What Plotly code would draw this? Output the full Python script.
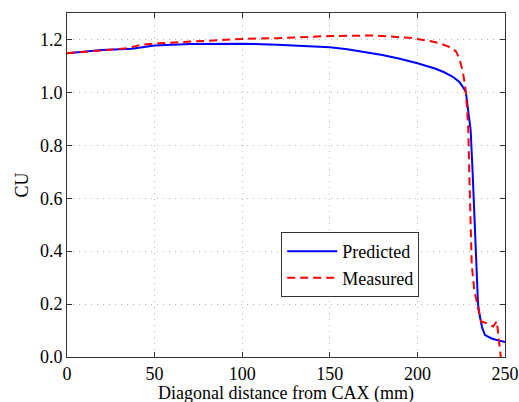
import plotly.graph_objects as go

# Predicted (blue solid)
pred_x = [0, 10, 20, 37, 50, 70, 90, 100, 120, 140, 150, 160, 170, 180, 190, 200,
          210, 215, 220, 224, 226, 227.7, 229, 230.4, 231.5, 232.9, 233.7, 234.6,
          235.7, 237, 238.6, 240.5, 242.4, 244.3, 247, 250]
pred_y = [1.148, 1.155, 1.16, 1.165, 1.177, 1.183, 1.185, 1.184, 1.18, 1.175, 1.171,
          1.163, 1.153, 1.141, 1.127, 1.11, 1.09, 1.077, 1.06, 1.039, 1.02, 1.0,
          0.93, 0.857, 0.7, 0.48, 0.29, 0.2, 0.152, 0.11, 0.083, 0.075, 0.07,
          0.066, 0.061, 0.057]

# Measured (red dashed)
meas_x = [0, 20, 35, 42, 50, 65, 80, 100, 120, 150, 175, 185, 196, 207, 213,
          218.6, 222, 224, 226, 227.7, 228.5, 229, 229.6, 230.2, 231, 232.5,
          233.4, 234.3, 235.7, 236.6, 238.6, 240, 243.2, 245.3, 246.2, 247.2, 247.6]
meas_y = [1.148, 1.16, 1.167, 1.18, 1.185, 1.19, 1.195, 1.202, 1.205, 1.213, 1.215,
          1.211, 1.206, 1.194, 1.185, 1.171, 1.155, 1.127, 1.077, 1.0, 0.93, 0.87,
          0.7, 0.5, 0.35, 0.25, 0.215, 0.196, 0.15, 0.133, 0.13, 0.125, 0.115,
          0.135, 0.077, 0.014, 0.0]

x_ticks = [0, 50, 100, 150, 200, 250]
y_ticks = [0.0, 0.2, 0.4, 0.6, 0.8, 1.0, 1.2]
x_title = "Diagonal distance from CAX (mm)"
y_title = "CU"

FONT = "Liberation Serif, Times New Roman, serif"
FS = 18

fig = go.Figure()
fig.add_trace(go.Scatter(x=pred_x, y=pred_y, mode="lines", name="Predicted",
                         line=dict(color="#0000ff", width=2)))
fig.add_trace(go.Scatter(x=meas_x, y=meas_y, mode="lines", name="Measured",
                         line=dict(color="#ff0000", width=2, dash="8px,5px")))

axis_common = dict(
    showline=True, linecolor="#333333", linewidth=1, mirror="ticks",
    ticks="inside", ticklen=5, tickcolor="#333333",
    showgrid=True, gridcolor="#b8b8b8", griddash="1px,5px", gridwidth=1,
    zeroline=False, automargin=False,
    tickfont=dict(family=FONT, size=FS, color="black"),
)

fig.update_layout(
    width=519, height=402,
    margin=dict(l=67, r=14, t=13, b=45),
    paper_bgcolor="white", plot_bgcolor="white",
    font=dict(family=FONT, size=FS, color="black"),
    xaxis=dict(range=[0, 250], tickvals=x_ticks, ticklabelstandoff=0,
               **axis_common),
    yaxis=dict(range=[0, 1.3], tickvals=y_ticks, tickformat=".1f",
               title=dict(text=y_title, standoff=6, font=dict(family=FONT, size=FS)),
               **axis_common),
    legend=dict(x=0.489, y=0.363, xanchor="left", yanchor="top",
                bgcolor="white", bordercolor="#333333", borderwidth=1,
                font=dict(family=FONT, size=FS), tracegroupgap=0,
                itemwidth=50),
    showlegend=True,
    annotations=[dict(text=x_title, xref="paper", yref="paper", x=0.5, y=0,
                      xanchor="center", yanchor="middle", yshift=-36,
                      showarrow=False, borderpad=0,
                      font=dict(family=FONT, size=FS, color="black"))],
)

fig.write_html("out.html", config={"displayModeBar": False},
               post_script="document.body.style.margin='0';document.body.style.overflow='hidden';")
